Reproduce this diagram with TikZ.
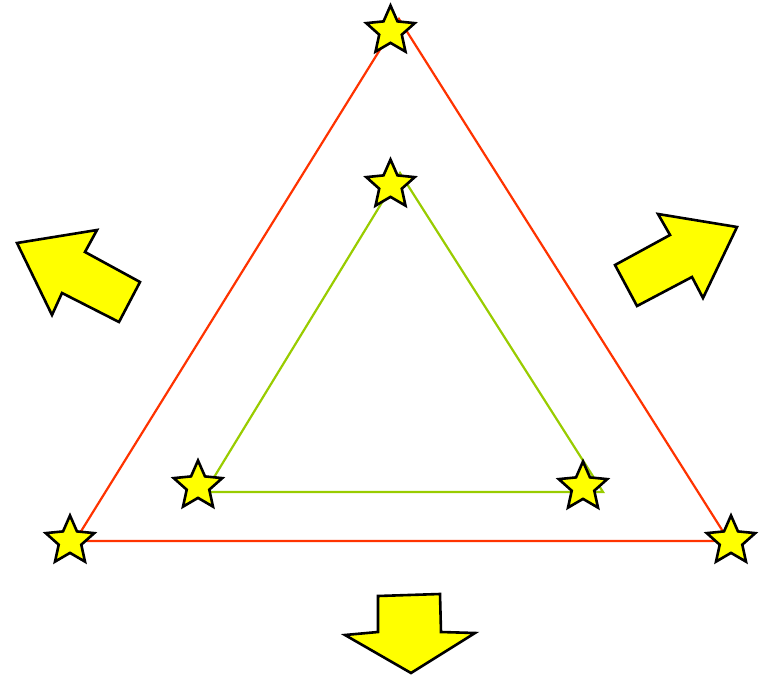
\documentclass[tikz,border=0pt]{standalone}
\usetikzlibrary{shapes.geometric}
\definecolor{outerred}{HTML}{FF3300}
\definecolor{innergreen}{HTML}{99CC00}
\definecolor{staryellow}{HTML}{FFFF00}
\begin{document}
\begin{tikzpicture}[x=1pt,y=-1pt,
  starnode/.style={star,star points=5,star point ratio=2.15,minimum size=51pt,inner sep=0pt,
    draw=black,line width=2.6pt,fill=staryellow,line join=miter},
  bigarrow/.style={draw=black,line width=2.6pt,fill=staryellow,line join=miter},
  outerline/.style={draw=outerred,line width=2.2pt},
  innerline/.style={draw=innergreen,line width=2.2pt}]
\useasboundingbox (0,0) rectangle (762,674);
% triangle vertices
\coordinate (oA) at (399,19);
\coordinate (oB) at (75,541);
\coordinate (oC) at (729,541);
\coordinate (iA) at (400,173);
\coordinate (iB) at (205,492);
\coordinate (iC) at (603,492);
\draw[outerline] (oA) -- (oB) -- (oC) -- cycle;
\draw[innerline] (iA) -- (iB) -- (iC) -- cycle;
% stars
\node[starnode] (s1) at (390.5,31) {};
\node[starnode] (s2) at (390.5,185) {};
\node[starnode] (s3) at (198,486) {};
\node[starnode] (s4) at (583,487) {};
\node[starnode] (s5) at (70,541) {};
\node[starnode] (s6) at (731,541) {};
% arrows
\draw[bigarrow] (17,243) -- (97,230) -- (85,252) -- (140,282) -- (119,322) -- (62,293) -- (52,315) -- cycle;
\draw[bigarrow] (737,227) -- (658,214) -- (670,235) -- (615,265) -- (637,306) -- (692,277) -- (703,298) -- cycle;
\draw[bigarrow] (378,596) -- (440,594) -- (441,632) -- (475,633) -- (411,673) -- (345,635) -- (378,632) -- cycle;
\end{tikzpicture}
\end{document}
